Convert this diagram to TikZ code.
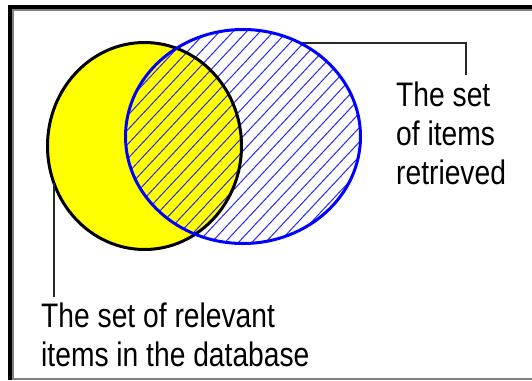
\documentclass[tikz,border=0pt]{standalone}
\usepackage{fontspec}
\newfontfamily\lblfont[FakeStretch=0.83]{Liberation Sans}
\definecolor{pureyellow}{RGB}{255,255,0}
\definecolor{pureblue}{RGB}{0,0,255}
\definecolor{hatchblue}{RGB}{40,40,255}
\definecolor{framegray}{RGB}{128,128,128}
\definecolor{leadergray}{RGB}{40,40,40}
\begin{document}
\begin{tikzpicture}[x=1pt,y=-1pt,
  lbl/.style={font=\lblfont\fontsize{34}{39}\selectfont, inner sep=0pt, anchor=base west},
  leader/.style={draw=leadergray, line width=1.2pt},
  relset/.style={line width=3pt},
  retset/.style={draw=pureblue, line width=3pt},
  hatchline/.style={draw=hatchblue, line width=1pt}]
\useasboundingbox (0,0) rectangle (532,380);
\fill[white] (0,0) rectangle (532,380);
% frame
\fill[black] (8,5) rectangle (532,9);
\fill[black] (8,5) rectangle (12,380);
\fill[framegray] (12,9) rectangle (532,10.5);
\fill[framegray] (12,9) rectangle (13.5,380);
\fill[framegray] (12,377.5) rectangle (532,380);
% relevant set fill
\fill[pureyellow] (144.5,146) ellipse [x radius=97pt, y radius=103.5pt];
% hatching of retrieved set
\begin{scope}
  \clip (243,136.5) ellipse [x radius=117.5pt, y radius=107pt];
  \foreach \k in {-18,...,18} {
    \draw[hatchline] ({243+\k*13.5-115},{136.5+123}) -- ++(230,-246);
  }
\end{scope}
% outline of relevant set
\draw[relset] (144.5,146) ellipse [x radius=97pt, y radius=103.5pt];
% anchor points on the sets
\coordinate (retpt) at (301,43);
\coordinate (relpt) at (54,183);
\coordinate (rettop) at (466,75);
\coordinate (relbot) at (54,297);
% leaders
\draw[leader] (retpt) -| (rettop);
\draw[leader] (relpt) -- (relbot);
% outline of retrieved set
\draw[retset] (243,136.5) ellipse [x radius=117.5pt, y radius=107pt];
% labels
\node[lbl] (r1) at (396,106) {The set};
\node[lbl] (r2) at (396,145) {of items};
\node[lbl] (r3) at (396,184) {retrieved};
\node[lbl] (b1) at (41,327) {The set of relevant};
\node[lbl] (b2) at (41,366) {items in the database};
\end{tikzpicture}
\end{document}
